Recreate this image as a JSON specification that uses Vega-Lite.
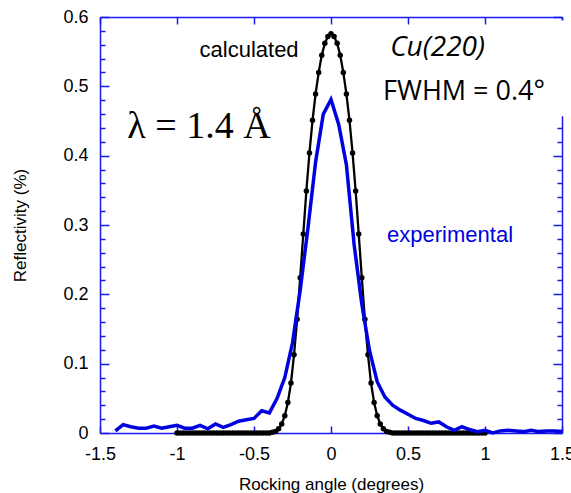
{
  "$schema": "https://vega.github.io/schema/vega-lite/v6.json",
  "width": 462,
  "height": 416,
  "autosize": "none",
  "padding": {"left": 100, "top": 17, "right": 9, "bottom": 60},
  "background": "white",
  "config": {"view": {"stroke": null}, "font": "Liberation Sans"},
  "datasets": {
    "exp": [
      {"a": -1.40, "r": 0.003}, {"a": -1.35, "r": 0.012}, {"a": -1.30, "r": 0.009}, {"a": -1.25, "r": 0.007},
      {"a": -1.20, "r": 0.007}, {"a": -1.15, "r": 0.010}, {"a": -1.10, "r": 0.007}, {"a": -1.05, "r": 0.009},
      {"a": -1.00, "r": 0.011}, {"a": -0.95, "r": 0.007}, {"a": -0.90, "r": 0.007}, {"a": -0.85, "r": 0.011},
      {"a": -0.80, "r": 0.006}, {"a": -0.75, "r": 0.013}, {"a": -0.70, "r": 0.008}, {"a": -0.65, "r": 0.012},
      {"a": -0.60, "r": 0.017}, {"a": -0.55, "r": 0.019}, {"a": -0.50, "r": 0.021}, {"a": -0.45, "r": 0.032},
      {"a": -0.40, "r": 0.029}, {"a": -0.35, "r": 0.050}, {"a": -0.30, "r": 0.080}, {"a": -0.25, "r": 0.130},
      {"a": -0.20, "r": 0.206}, {"a": -0.15, "r": 0.295}, {"a": -0.10, "r": 0.391}, {"a": -0.05, "r": 0.460},
      {"a": 0.00, "r": 0.481}, {"a": 0.05, "r": 0.445}, {"a": 0.10, "r": 0.387}, {"a": 0.15, "r": 0.272},
      {"a": 0.20, "r": 0.186}, {"a": 0.25, "r": 0.119}, {"a": 0.30, "r": 0.074}, {"a": 0.35, "r": 0.052},
      {"a": 0.40, "r": 0.040}, {"a": 0.45, "r": 0.033}, {"a": 0.50, "r": 0.027}, {"a": 0.55, "r": 0.021},
      {"a": 0.60, "r": 0.018}, {"a": 0.65, "r": 0.014}, {"a": 0.70, "r": 0.016}, {"a": 0.75, "r": 0.009},
      {"a": 0.80, "r": 0.004}, {"a": 0.85, "r": 0.009}, {"a": 0.90, "r": 0.005}, {"a": 0.95, "r": 0.002},
      {"a": 1.00, "r": 0.004}, {"a": 1.05, "r": 0.000}, {"a": 1.10, "r": 0.003}, {"a": 1.15, "r": 0.004},
      {"a": 1.20, "r": 0.003}, {"a": 1.25, "r": 0.002}, {"a": 1.30, "r": 0.004}, {"a": 1.35, "r": 0.002},
      {"a": 1.40, "r": 0.003}, {"a": 1.45, "r": 0.003}, {"a": 1.50, "r": 0.002}
    ],
    "calc": [
      {"a": -1.00, "r": 0}, {"a": -0.98, "r": 0}, {"a": -0.96, "r": 0}, {"a": -0.94, "r": 0}, {"a": -0.92, "r": 0},
      {"a": -0.90, "r": 0}, {"a": -0.88, "r": 0}, {"a": -0.86, "r": 0}, {"a": -0.84, "r": 0}, {"a": -0.82, "r": 0},
      {"a": -0.80, "r": 0}, {"a": -0.78, "r": 0}, {"a": -0.76, "r": 0}, {"a": -0.74, "r": 0}, {"a": -0.72, "r": 0},
      {"a": -0.70, "r": 0}, {"a": -0.68, "r": 0}, {"a": -0.66, "r": 0}, {"a": -0.64, "r": 0}, {"a": -0.62, "r": 0},
      {"a": -0.60, "r": 0}, {"a": -0.58, "r": 0}, {"a": -0.56, "r": 0}, {"a": -0.54, "r": 0}, {"a": -0.52, "r": 0},
      {"a": -0.50, "r": 0}, {"a": -0.48, "r": 0}, {"a": -0.46, "r": 0}, {"a": -0.44, "r": 0}, {"a": -0.42, "r": 0},
      {"a": -0.40, "r": 0}, {"a": -0.38, "r": 0.001}, {"a": -0.36, "r": 0.002}, {"a": -0.34, "r": 0.006},
      {"a": -0.32, "r": 0.013}, {"a": -0.30, "r": 0.025}, {"a": -0.28, "r": 0.044}, {"a": -0.26, "r": 0.072},
      {"a": -0.24, "r": 0.113}, {"a": -0.22, "r": 0.164}, {"a": -0.20, "r": 0.224}, {"a": -0.18, "r": 0.287},
      {"a": -0.16, "r": 0.349}, {"a": -0.14, "r": 0.404}, {"a": -0.12, "r": 0.451}, {"a": -0.10, "r": 0.489},
      {"a": -0.08, "r": 0.520}, {"a": -0.06, "r": 0.545}, {"a": -0.04, "r": 0.562}, {"a": -0.02, "r": 0.572},
      {"a": 0.00, "r": 0.576},
      {"a": 0.02, "r": 0.572}, {"a": 0.04, "r": 0.562}, {"a": 0.06, "r": 0.545}, {"a": 0.08, "r": 0.520},
      {"a": 0.10, "r": 0.489}, {"a": 0.12, "r": 0.451}, {"a": 0.14, "r": 0.404}, {"a": 0.16, "r": 0.349},
      {"a": 0.18, "r": 0.287}, {"a": 0.20, "r": 0.224}, {"a": 0.22, "r": 0.164}, {"a": 0.24, "r": 0.113},
      {"a": 0.26, "r": 0.072}, {"a": 0.28, "r": 0.044}, {"a": 0.30, "r": 0.025}, {"a": 0.32, "r": 0.013},
      {"a": 0.34, "r": 0.006}, {"a": 0.36, "r": 0.002}, {"a": 0.38, "r": 0.001}, {"a": 0.40, "r": 0},
      {"a": 0.42, "r": 0}, {"a": 0.44, "r": 0}, {"a": 0.46, "r": 0}, {"a": 0.48, "r": 0}, {"a": 0.50, "r": 0},
      {"a": 0.52, "r": 0}, {"a": 0.54, "r": 0}, {"a": 0.56, "r": 0}, {"a": 0.58, "r": 0}, {"a": 0.60, "r": 0},
      {"a": 0.62, "r": 0}, {"a": 0.64, "r": 0}, {"a": 0.66, "r": 0}, {"a": 0.68, "r": 0}, {"a": 0.70, "r": 0},
      {"a": 0.72, "r": 0}, {"a": 0.74, "r": 0}, {"a": 0.76, "r": 0}, {"a": 0.78, "r": 0}, {"a": 0.80, "r": 0},
      {"a": 0.82, "r": 0}, {"a": 0.84, "r": 0}, {"a": 0.86, "r": 0}, {"a": 0.88, "r": 0}, {"a": 0.90, "r": 0},
      {"a": 0.92, "r": 0}, {"a": 0.94, "r": 0}, {"a": 0.96, "r": 0}, {"a": 0.98, "r": 0}, {"a": 1.00, "r": 0}
    ]
  },
  "layer": [
    {
      "data": {"name": "calc"},
      "mark": {"type": "line", "color": "black", "strokeWidth": 2.3, "clip": false},
      "encoding": {
        "x": {"field": "a", "type": "quantitative", "scale": {"domain": [-1.5, 1.5], "nice": false},
          "axis": {"orient": "bottom", "values": [-1.5, -1, -0.5, 0, 0.5, 1, 1.5], "format": "~g",
            "labelExpr": "replace(datum.label, '−', '-')", "ticks": false, "tickSize": 0, "labelPadding": 12,
            "domainColor": "#1a1aee", "domainWidth": 1.5, "labelFontSize": 18, "labelColor": "black", "labelFont": "Liberation Sans",
            "labelOverlap": false, "labelFlush": false, "title": "Rocking angle (degrees)", "titleFontSize": 17, "titleFontWeight": "normal",
            "titleFont": "Liberation Sans", "titleColor": "black", "titlePadding": 13, "grid": false}},
        "y": {"field": "r", "type": "quantitative", "scale": {"domain": [0, 0.6], "nice": false, "zero": false},
          "axis": {"orient": "left", "values": [0, 0.1, 0.2, 0.3, 0.4, 0.5, 0.6], "format": "~g", "ticks": false, "tickSize": 0,
            "labelPadding": 12,
            "domainColor": "#1a1aee", "domainWidth": 1.5, "labelFontSize": 18, "labelColor": "black", "labelFont": "Liberation Sans",
            "labelOverlap": false, "labelFlush": false, "title": "Reflectivity (%)", "titleFontSize": 17, "titleFontWeight": "normal",
            "titleFont": "Liberation Sans", "titleColor": "black", "titlePadding": 33, "grid": false}}
      }
    },
    {
      "data": {"name": "calc"},
      "mark": {"type": "point", "filled": true, "color": "black", "size": 30, "opacity": 1, "clip": false},
      "encoding": {
        "x": {"field": "a", "type": "quantitative",
          "axis": {"orient": "top", "offset": -416, "values": [-1.5, -1, -0.5, 0, 0.5, 1, 1.5], "tickSize": 7, "tickWidth": 1.5,
            "labels": false, "title": null, "domain": false, "tickColor": "#1a1aee", "grid": false}},
        "y": {"field": "r", "type": "quantitative",
          "axis": {"orient": "right", "offset": -462,
            "values": [0, 0.02, 0.04, 0.06, 0.08, 0.1, 0.12, 0.14, 0.16, 0.18, 0.2, 0.22, 0.24, 0.26, 0.28, 0.3, 0.32, 0.34, 0.36, 0.38, 0.4, 0.42, 0.44, 0.46, 0.48, 0.5, 0.52, 0.54, 0.56, 0.58, 0.6],
            "tickSize": {"condition": {"test": "abs(datum.value*10 - round(datum.value*10)) < 0.001", "value": 9}, "value": 5},
            "tickWidth": 1.5, "labels": false, "title": null, "domain": false, "tickColor": "#1a1aee", "grid": false}}
      }
    },
    {
      "data": {"name": "exp"},
      "mark": {"type": "line", "color": "#0000e0", "strokeWidth": 3.5},
      "encoding": {
        "x": {"field": "a", "type": "quantitative",
          "axis": {"orient": "bottom", "offset": -416, "values": [-1.5, -1, -0.5, 0, 0.5, 1, 1.5], "tickSize": 7, "tickWidth": 1.5,
            "labels": false, "title": null, "domain": true, "domainColor": "#1a1aee", "domainWidth": 1.5, "tickColor": "#1a1aee", "grid": false}},
        "y": {"field": "r", "type": "quantitative",
          "axis": {"orient": "left", "offset": -462,
            "values": [0, 0.02, 0.04, 0.06, 0.08, 0.1, 0.12, 0.14, 0.16, 0.18, 0.2, 0.22, 0.24, 0.26, 0.28, 0.3, 0.32, 0.34, 0.36, 0.38, 0.4, 0.42, 0.44, 0.46, 0.48, 0.5, 0.52, 0.54, 0.56, 0.58, 0.6],
            "tickSize": {"condition": {"test": "abs(datum.value*10 - round(datum.value*10)) < 0.001", "value": 9}, "value": 5},
            "tickWidth": 1.5, "labels": false, "title": null, "domain": true, "domainColor": "#1a1aee", "domainWidth": 1.5, "tickColor": "#1a1aee", "grid": false}}
      }
    },
    {
      "data": {"values": [{"x1": 1.2, "x2": 1.53, "y1": 0.457, "y2": 0.595}]},
      "mark": {"type": "rect", "color": "white", "clip": false},
      "encoding": {
        "x": {"field": "x1", "type": "quantitative", "axis": null},
        "x2": {"field": "x2"},
        "y": {"field": "y1", "type": "quantitative", "axis": null},
        "y2": {"field": "y2"}
      }
    },
    {
      "data": {"values": [
        {"a": -0.532, "r": 0.553, "t": "calculated", "g": "c"},
        {"a": 0.773, "r": 0.286, "t": "experimental", "g": "e"}
      ]},
      "mark": {"type": "text", "font": "Liberation Sans", "fontSize": 22, "align": "center", "baseline": "middle"},
      "encoding": {
        "x": {"field": "a", "type": "quantitative", "axis": null},
        "y": {"field": "r", "type": "quantitative", "axis": null},
        "text": {"field": "t"},
        "color": {"field": "g", "type": "nominal", "scale": {"domain": ["c", "e"], "range": ["black", "#0000e0"]}, "legend": null}
      }
    },
    {
      "data": {"values": [{"a": 0.692, "r": 0.556, "t": "Cu(220)"}]},
      "mark": {"type": "text", "font": "Open Sans", "fontStyle": "italic", "fontSize": 28, "align": "center", "baseline": "middle", "color": "black"},
      "encoding": {
        "x": {"field": "a", "type": "quantitative", "axis": null},
        "y": {"field": "r", "type": "quantitative", "axis": null},
        "text": {"field": "t"}
      }
    },
    {
      "data": {"values": [{"a": 0.864, "r": 0.492, "t": "FWHM = 0.4°"}]},
      "mark": {"type": "text", "font": "Open Sans", "fontSize": 27, "align": "center", "baseline": "middle", "color": "black"},
      "encoding": {
        "x": {"field": "a", "type": "quantitative", "axis": null},
        "y": {"field": "r", "type": "quantitative", "axis": null},
        "text": {"field": "t"}
      }
    },
    {
      "data": {"values": [{"a": -0.857, "r": 0.442, "t": "λ = 1.4 Å"}]},
      "mark": {"type": "text", "font": "Liberation Serif", "fontSize": 38, "align": "center", "baseline": "middle", "color": "black"},
      "encoding": {
        "x": {"field": "a", "type": "quantitative", "axis": null},
        "y": {"field": "r", "type": "quantitative", "axis": null},
        "text": {"field": "t"}
      }
    }
  ],
  "resolve": {"axis": {"x": "independent", "y": "independent"}}
}
